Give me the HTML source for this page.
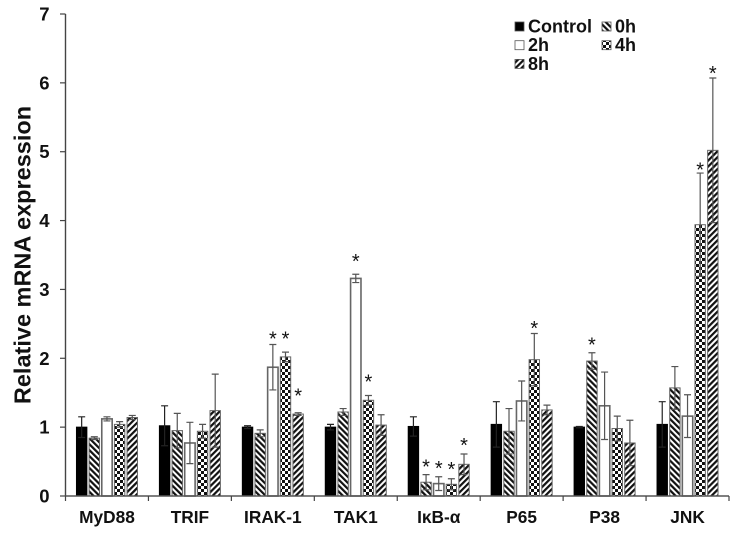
<!DOCTYPE html>
<html>
<head>
<meta charset="utf-8">
<style>
html,body{margin:0;padding:0;background:#fff;}
svg{display:block;font-family:"Liberation Sans",Arial,sans-serif;}
text{fill:#111;font-weight:bold;}
</style>
</head>
<body>
<svg id="chart" width="744" height="533" viewBox="0 0 744 533" xmlns="http://www.w3.org/2000/svg">
<defs>
<pattern id="p0h" width="4.2" height="4.2" patternUnits="userSpaceOnUse" patternTransform="rotate(-45)"><rect width="4.2" height="4.2" fill="#fff"/><rect width="2.2" height="4.2" fill="#111"/></pattern>
<pattern id="p2h" width="4" height="4" patternUnits="userSpaceOnUse"><rect width="4" height="4" fill="#fff"/></pattern>
<pattern id="p4h" width="6" height="6" patternUnits="userSpaceOnUse"><rect width="6" height="6" fill="#fff"/><rect width="3" height="3" fill="#111"/><rect x="3" y="3" width="3" height="3" fill="#111"/></pattern>
<pattern id="p8h" width="4.2" height="4.2" patternUnits="userSpaceOnUse" patternTransform="rotate(45)"><rect width="4.2" height="4.2" fill="#fff"/><rect width="2.2" height="4.2" fill="#111"/></pattern>
</defs>
<g id="plot"></g>
<text transform="translate(30.5,255) rotate(-90)" text-anchor="middle" font-size="23.5">Relative mRNA expression</text>
</svg>
<script>
const categories = ["MyD88","TRIF","IRAK-1","TAK1","IκB-α","P65","P38","JNK"];
const seriesNames = ["Control","0h","2h","4h","8h"];
const control = [1.00,1.02,1.00,1.00,1.01,1.04,1.00,1.04];
const h0 = [0.84,0.95,0.91,1.22,0.20,0.94,1.96,1.57];
const h2 = [1.12,0.77,1.87,3.16,0.18,1.38,1.31,1.16];
const h4 = [1.04,0.94,2.02,1.39,0.17,1.98,0.98,3.94];
const h8 = [1.14,1.24,1.19,1.03,0.46,1.25,0.77,5.02];
const errControl = [0.15,0.29,0.02,0.04,0.14,0.33,0.01,0.33];
const err0 = [0.02,0.25,0.05,0.05,0.11,0.33,0.12,0.31];
const err2 = [0.03,0.30,0.33,0.06,0.10,0.29,0.49,0.31];
const err4 = [0.04,0.10,0.07,0.07,0.08,0.38,0.18,0.75];
const err8 = [0.03,0.53,0.02,0.15,0.15,0.07,0.33,1.05];
// height of each significance star above its error bar, in axis units; 0 = no star
const star0 = [0,0,0,0,0.12,0,0.12,0];
const star2 = [0,0,0.09,0.19,0.13,0,0,0];
const star4 = [0,0,0.20,0.2,0.14,0.08,0,0.05];
const star8 = [0,0,0.25,0,0.13,0,0,0.07];
const yTicks = [0,1,2,3,4,5,6,7];

const allValues = [control,h0,h2,h4,h8];
const allErrors = [errControl,err0,err2,err4,err8];
const allStars = [null,star0,star2,star4,star8];
const fills = ["#000","url(#p0h)","url(#p2h)","url(#p4h)","url(#p8h)"];

const NS = "http://www.w3.org/2000/svg";
const plot = document.getElementById("plot");
const AX0 = 65.5, AX1 = 729, Y0 = 496, Y7 = 14;
const catW = (AX1 - AX0) / categories.length;
const BW = 10.4, PITCH = 12.65;
function yScale(v){ return Y0 - (v / 7) * (Y0 - Y7); }
function catX(i){ return AX0 + catW * i; }
function barX(c, s){ return catX(c) + catW / 2 - BW / 2 + (s - 2) * PITCH; }
function mk(tag, attrs, parent){
  const el = document.createElementNS(NS, tag);
  for (const k in attrs) el.setAttribute(k, attrs[k]);
  (parent || plot).appendChild(el);
  return el;
}

allValues.forEach(function(vals, s){
  vals.forEach(function(v, c){
    const x = barX(c, s), top = yScale(v), cx = x + BW / 2;
    const g = mk("g", {});
    
    
    const bar = mk("rect", {x: x, y: top, width: BW, height: Y0 - top, fill: fills[s], stroke: s === 0 ? "#000" : "#666", "stroke-width": s === 2 ? 1.6 : 1}, g);
    
    
    const e = allErrors[s][c];
    const col = s === 0 ? "#222" : "#555";
    const yHi = yScale(v + e), yLo = yScale(v - e);
    const whisker = mk("path", {d: "M" + cx + " " + yHi + "V" + yLo + "M" + (cx - 3.5) + " " + yHi + "H" + (cx + 3.5) + "M" + (cx - 3.5) + " " + yLo + "H" + (cx + 3.5), stroke: col, "stroke-width": 1.2, fill: "none"}, g);
    
    
    const st = allStars[s] ? allStars[s][c] : 0;
    if (st > 0) {
      const t = mk("text", {x: cx, y: yScale(v + e + st) + 7, "text-anchor": "middle", "font-size": 20, style: "font-weight:normal"}, g);
      t.textContent = "*";
      
      
    }
  });
});

const yAxis = mk("line", {x1: AX0, x2: AX0, y1: Y7, y2: Y0, stroke: "#444", "stroke-width": 1.4});


const xAxis = mk("line", {x1: AX0, x2: AX1, y1: Y0, y2: Y0, stroke: "#555", "stroke-width": 1.4});



yTicks.forEach(function(t){
  const y = yScale(t);
  const tick = mk("line", {x1: 60, x2: AX0, y1: y, y2: y, stroke: "#444", "stroke-width": 1.2});
  
  
  const lab = mk("text", {x: 49.5, y: y + 6.5, "text-anchor": "end", "font-size": 18.5});
  lab.textContent = t;
  
  
});

for (let i = 0; i <= categories.length; i++) {
  const tick = mk("line", {x1: catX(i), x2: catX(i), y1: Y0, y2: 501, stroke: "#444", "stroke-width": 1.2});
  
  
}
categories.forEach(function(name, i){
  const lab = mk("text", {x: catX(i) + catW / 2, y: 523, "text-anchor": "middle", "font-size": 17.3});
  lab.textContent = name;
  
  
});

const legend = mk("g", {});


const legendCols = [0,1,0,1,0];
const legendRows = [0,0,1,1,2];
seriesNames.forEach(function(name, s){
  const lx = 515 + legendCols[s] * 87, ly = 22 + legendRows[s] * 18.7;
  const g = mk("g", {}, legend);
  
  
  mk("rect", {x: lx, y: ly, width: 9, height: 9, fill: fills[s], stroke: "#555", "stroke-width": 0.8}, g);
  const t = mk("text", {x: lx + 13, y: ly + 10.5, "font-size": 18}, g);
  t.textContent = name;
});
</script>
</body>
</html>
